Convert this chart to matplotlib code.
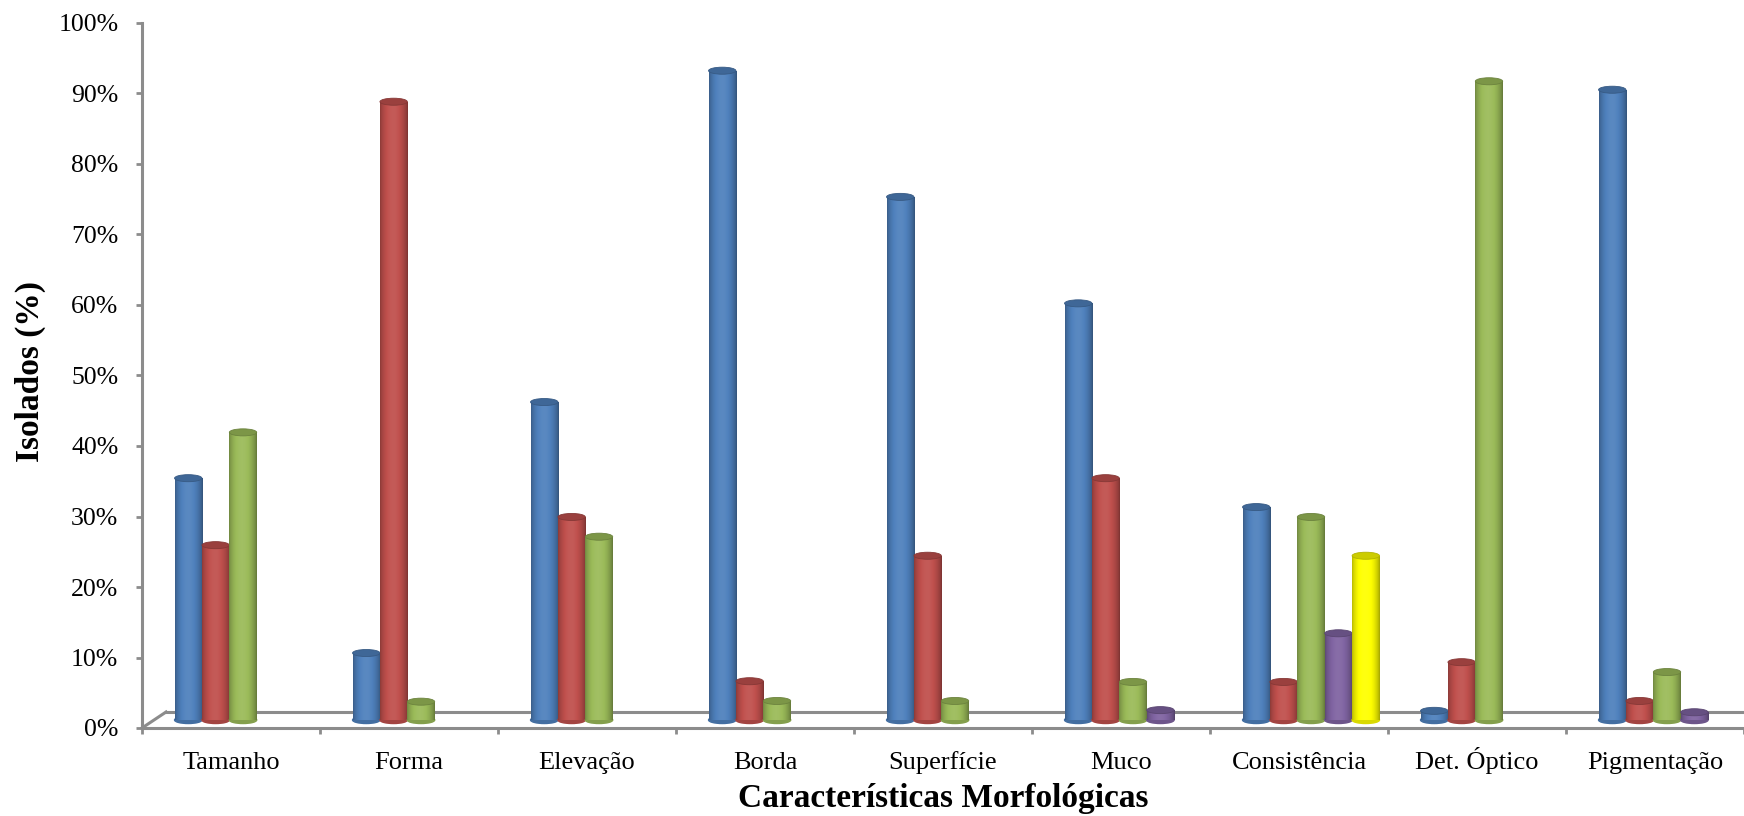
"""Cylinder-style grouped bar chart of colony morphology percentages."""

import numpy as np
import matplotlib

matplotlib.use("Agg")
import matplotlib.pyplot as plt
from matplotlib.colors import to_rgb
from matplotlib.patches import Ellipse

categories = ["Tamanho", "Forma", "Elevação", "Borda", "Superfície",
              "Muco", "Consistência", "Det. Óptico", "Pigmentação"]

# percent of isolates per category; 0 means no bar in that slot
serie_azul = [34.3, 9.5, 45.1, 92.1, 74.2, 59.1, 30.2, 1.3, 89.4]
serie_vermelha = [24.8, 87.7, 28.8, 5.5, 23.3, 34.3, 5.4, 8.2, 2.7]
serie_verde = [40.8, 2.6, 26.0, 2.7, 2.7, 5.4, 28.8, 90.6, 6.8]
serie_roxa = [0, 0, 0, 0, 0, 1.4, 12.3, 0, 1.1]
serie_amarela = [0, 0, 0, 0, 0, 0, 23.3, 0, 0]

series = [serie_azul, serie_vermelha, serie_verde, serie_roxa, serie_amarela]
colors = ["#4F81BD", "#C0504D", "#9BBB59", "#8064A2", "#FFFF00"]

AXIS_GRAY = "#8C8C8C"
FONT = "Liberation Serif"

# 3D floor offset (category units, percent units)
DEPTH_X = 0.135
DEPTH_Y = 2.27
BASE = DEPTH_Y / 2
BAR_W = 1 / 6.5  # Excel default gap width 150%


def shade(color, factor):
    rgb = np.array(to_rgb(color))
    if factor >= 1:
        return tuple(rgb + (1 - rgb) * (factor - 1))
    return tuple(rgb * factor)


def cylinder_gradient(color):
    t = np.linspace(0, 1, 64)
    prof = 0.72 + 0.38 * np.sin(np.pi * t) ** 0.7 - 0.08 * t
    prof = np.clip(prof, 0, 1.08)
    return np.array([[shade(color, f) for f in prof]])


fig = plt.figure(figsize=(17.44, 8.16), dpi=100)
ax = fig.add_axes([142 / 1744, 88 / 816, 1602 / 1744, 705 / 816])
ax.set_xlim(0, len(categories))
ax.set_ylim(0, 100)

# floor
ax.plot([DEPTH_X, len(categories) + DEPTH_X], [DEPTH_Y, DEPTH_Y],
        color=AXIS_GRAY, lw=2.2, zorder=1)
ax.plot([0, DEPTH_X], [0, DEPTH_Y], color=AXIS_GRAY, lw=2.2, zorder=1,
        clip_on=False)

x = np.arange(len(categories))
ell_h = 1.0
for i, (vals, color) in enumerate(zip(series, colors)):
    centers = x + DEPTH_X / 2 + (0.75 + i + 0.5) * BAR_W
    grad = cylinder_gradient(color)
    for cx, v in zip(centers, vals):
        if v <= 0:
            continue
        x0, x1 = cx - BAR_W / 2, cx + BAR_W / 2
        ax.add_patch(Ellipse((cx, BASE), BAR_W, ell_h, color=shade(color, 0.85),
                             zorder=2 + i * 0.1))
        rect = ax.bar(cx, v, width=BAR_W, bottom=BASE, color=color,
                      zorder=2.01 + i * 0.1)[0]
        im = ax.imshow(grad, extent=[x0, x1, BASE, BASE + v], aspect="auto",
                       zorder=2.02 + i * 0.1, interpolation="bilinear")
        im.set_clip_path(rect)
        ax.add_patch(Ellipse((cx, BASE + v), BAR_W, ell_h,
                             facecolor=shade(color, 0.8), edgecolor=shade(color, 0.7),
                             lw=0.6, zorder=2.03 + i * 0.1))

ax.set_xlim(0, len(categories))
ax.set_ylim(0, 100)

for side in ["top", "right"]:
    ax.spines[side].set_visible(False)
for side in ["left", "bottom"]:
    ax.spines[side].set_color(AXIS_GRAY)
    ax.spines[side].set_linewidth(2.2)
    ax.spines[side].set_zorder(5)

ax.set_yticks(np.arange(0, 101, 10))
ax.set_yticklabels([f"{v}%" for v in range(0, 101, 10)], fontname=FONT, fontsize=18.5)
ax.set_xticks(np.arange(0, len(categories) + 1))
ax.set_xticklabels([])
ax.set_xticks(x + 0.5, minor=True)
ax.set_xticklabels(categories, minor=True, fontname=FONT, fontsize=19, va="baseline")
ax.tick_params(axis="both", which="major", color=AXIS_GRAY, width=2, length=4)
ax.tick_params(axis="y", pad=13)
ax.tick_params(axis="x", which="minor", length=0, pad=29.5)

ax.set_xlabel("Características Morfológicas", fontname=FONT, fontsize=24,
              fontweight="bold", va="baseline")
ax.xaxis.set_label_coords(0.5, (728 - 807) / 705)
ax.set_ylabel("Isolados (%)", fontname=FONT, fontsize=24, fontweight="bold",
              va="center")
ax.yaxis.set_label_coords((30 - 142) / 1602, (728 - 372) / 705)

fig.savefig("out.png", dpi=100)
